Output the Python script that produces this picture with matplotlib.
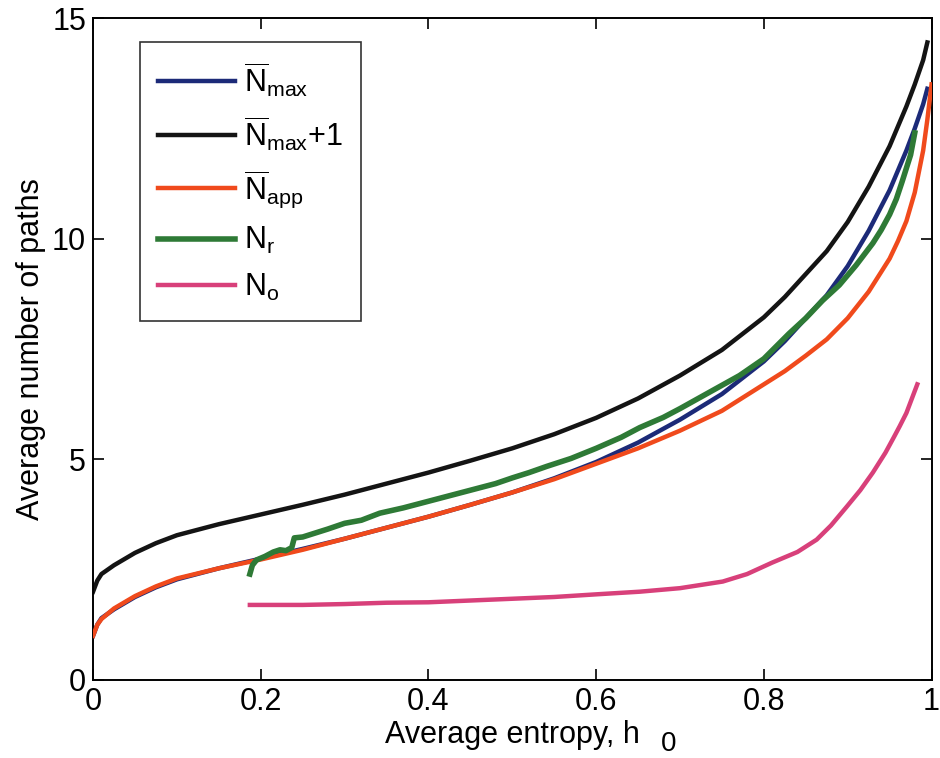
import matplotlib
matplotlib.use("Agg")
import matplotlib.pyplot as plt

plt.rcParams['font.family'] = ['Liberation Sans', 'DejaVu Sans']
plt.rcParams['mathtext.fontset'] = 'custom'
plt.rcParams['mathtext.rm'] = 'Liberation Sans'
plt.rcParams['mathtext.it'] = 'Liberation Sans'

# values
h = [0, 0.005, 0.01, 0.025, 0.05, 0.075, 0.1, 0.15, 0.2, 0.25, 0.3, 0.35,
     0.4, 0.45, 0.5, 0.55, 0.6, 0.65, 0.7, 0.75, 0.8, 0.825, 0.85, 0.875,
     0.9, 0.925, 0.95, 0.96, 0.97, 0.98, 0.99, 0.995]
n_max1 = [2.0, 2.25, 2.4, 2.6, 2.88, 3.1, 3.28, 3.53, 3.75, 3.97, 4.2, 4.45,
          4.7, 4.97, 5.25, 5.57, 5.94, 6.38, 6.9, 7.48, 8.22, 8.68, 9.2, 9.72,
          10.38, 11.18, 12.1, 12.55, 13.0, 13.5, 14.05, 14.45]
n_max = [1.0, 1.25, 1.4, 1.6, 1.88, 2.1, 2.28, 2.53, 2.75, 2.97, 3.2, 3.45,
         3.7, 3.97, 4.25, 4.57, 4.94, 5.38, 5.9, 6.48, 7.22, 7.68, 8.2, 8.72,
         9.38, 10.18, 11.1, 11.55, 12.0, 12.5, 13.05, 13.4]

h_app = h + [1.0]
n_app = [1.0, 1.25, 1.38, 1.62, 1.9, 2.12, 2.3, 2.53, 2.73, 2.95, 3.2, 3.45,
         3.7, 3.97, 4.25, 4.55, 4.9, 5.25, 5.65, 6.1, 6.7, 7.0, 7.35, 7.72,
         8.2, 8.8, 9.55, 9.95, 10.4, 11.05, 12.0, 12.7, 13.5]

h_r = [0.187, 0.19, 0.195, 0.205, 0.215, 0.223, 0.23, 0.237, 0.24, 0.25,
       0.26, 0.28, 0.3, 0.32, 0.342, 0.37, 0.4, 0.43, 0.45, 0.48, 0.5, 0.52,
       0.541, 0.57, 0.6, 0.63, 0.652, 0.68, 0.7, 0.735, 0.771, 0.8, 0.83,
       0.85, 0.87, 0.89, 0.91, 0.93, 0.94, 0.95, 0.958, 0.965, 0.97, 0.975,
       0.98]
n_r = [2.4, 2.6, 2.72, 2.8, 2.9, 2.95, 2.93, 3.0, 3.22, 3.24, 3.3, 3.42,
       3.55, 3.62, 3.78, 3.9, 4.05, 4.2, 4.3, 4.45, 4.58, 4.7, 4.84, 5.02,
       5.25, 5.5, 5.72, 5.95, 6.15, 6.52, 6.9, 7.28, 7.85, 8.2, 8.6, 8.95,
       9.4, 9.9, 10.2, 10.55, 10.9, 11.3, 11.6, 11.9, 12.4]

h_o = [0.187, 0.25, 0.3, 0.35, 0.4, 0.45, 0.5, 0.55, 0.6, 0.652, 0.7, 0.751,
       0.78, 0.81, 0.84, 0.863, 0.88, 0.899, 0.915, 0.93, 0.945, 0.955,
       0.962, 0.97, 0.975, 0.983]
n_o = [1.7, 1.7, 1.72, 1.75, 1.76, 1.8, 1.84, 1.88, 1.94, 2.0, 2.08, 2.23,
       2.4, 2.66, 2.9, 3.18, 3.5, 3.93, 4.3, 4.7, 5.15, 5.5, 5.75, 6.05,
       6.3, 6.7]

xticks = [0, 0.2, 0.4, 0.6, 0.8, 1]
xticklabels = ['0', '0.2', '0.4', '0.6', '0.8', '1']
yticks = [0, 5, 10, 15]

fig = plt.figure(figsize=(9.4, 7.58), dpi=100)
ax = fig.add_axes([0.099, 0.103, 0.892, 0.873])

lw = 3.2
ax.plot(h, n_max, color='#1c2a78', lw=lw, label=r'$\overline{\mathrm{N}}_{\mathrm{max}}$', zorder=2)
ax.plot(h, n_max1, color='#141414', lw=lw, label=r'$\overline{\mathrm{N}}_{\mathrm{max}}$+1', zorder=2)
ax.plot(h_app, n_app, color='#f04a1c', lw=lw, label=r'$\overline{\mathrm{N}}_{\mathrm{app}}$', zorder=3)
ax.plot(h_r, n_r, color='#2e7a36', lw=lw + 0.8, label=r'N$_{\mathrm{r}}$', zorder=4)
ax.plot(h_o, n_o, color='#d8407a', lw=lw, label=r'N$_{\mathrm{o}}$', zorder=2)

ax.set_xlim(0, 1)
ax.set_ylim(0, 15)
ax.set_xticks(xticks)
ax.set_xticklabels(xticklabels)
ax.set_yticks(yticks)
ax.tick_params(direction='in', length=8, width=1.2, labelsize=22,
               top=True, right=True, pad=5)
for s in ax.spines.values():
    s.set_linewidth(1.4)

ax.set_ylabel('Average number of paths', fontsize=22, labelpad=4)
fig.text(0.545, 0.0195, 'Average entropy, h', fontsize=22, ha='center', va='baseline')
fig.text(0.703, 0.009, '0', fontsize=20, ha='left', va='baseline')

leg = ax.legend(loc='upper left', bbox_to_anchor=(0.056, 0.964), fontsize=22,
                frameon=True, fancybox=False, handlelength=2.5,
                labelspacing=0.5, borderpad=0.6, handletextpad=0.3,
                borderaxespad=0)
leg.get_frame().set_edgecolor('black')
leg.get_frame().set_linewidth(1.2)

fig.savefig('out.png', dpi=100)
